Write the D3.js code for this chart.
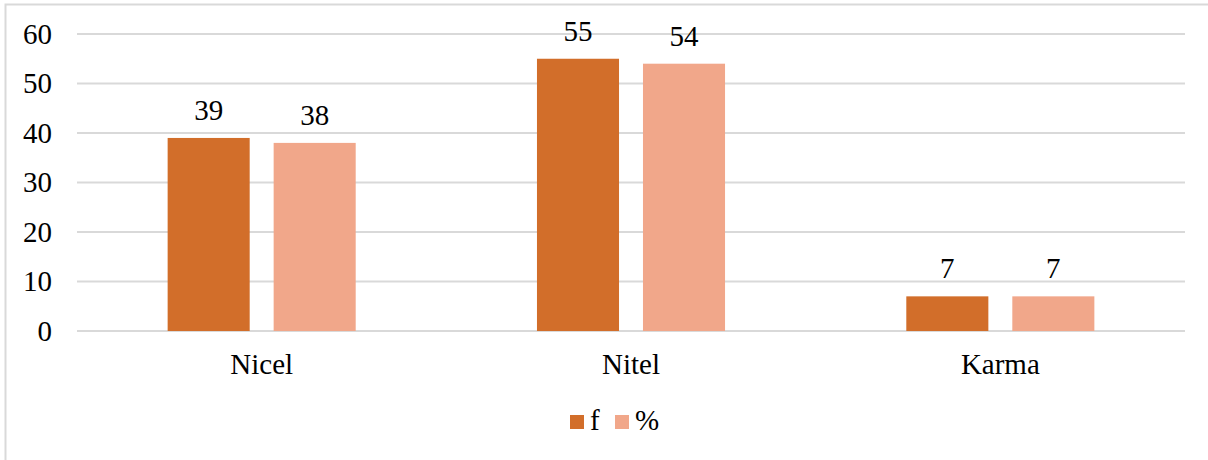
<!DOCTYPE html>
<html>
<head>
<meta charset="utf-8">
<script src="https://cdn.jsdelivr.net/npm/d3@7"></script>
<style>
  html, body { margin: 0; padding: 0; background: #fff; }
</style>
</head>
<body>
<svg id="chart" width="1208" height="460"></svg>
<script>
// Categories and series
const categories = ["Nicel", "Nitel", "Karma"];
const seriesNames = ["f", "%"];
const fValues = [39, 55, 7];
const pctValues = [38, 54, 7];
const yTicks = [0, 10, 20, 30, 40, 50, 60];
const seriesColors = ["#d26e2a", "#f1a78a"];

const FONT = "'Liberation Serif', 'Times New Roman', serif";
const FONT_SIZE = 29;

const svg = d3.select("#chart");
const W = 1208, H = 460;
const plot = { left: 77, right: 1185, top: 34, bottom: 331 };

// Outer frame (extends past the right and bottom edges)
svg.append("rect")
  .attr("x", 5.5).attr("y", 4.5)
  .attr("width", W + 10).attr("height", H + 10)
  .attr("fill", "none").attr("stroke", "#d9d9d9").attr("stroke-width", 2);

const y = d3.scaleLinear().domain([0, 60]).range([plot.bottom, plot.top]);
const x0 = d3.scaleBand().domain(categories).range([plot.left, plot.right]).padding(0);
const x1 = d3.scaleBand().domain(seriesNames).range([0, x0.bandwidth()])
  .paddingInner(0.226).paddingOuter(0.855);
const color = d3.scaleOrdinal().domain(seriesNames).range(seriesColors);

// Gridlines
svg.append("g").selectAll("line").data(yTicks).join("line")
  .attr("x1", plot.left).attr("x2", plot.right)
  .attr("y1", d => y(d)).attr("y2", d => y(d))
  .attr("stroke", "#d9d9d9").attr("stroke-width", 2);

// Y axis labels
const yAxis = d3.axisLeft(y).tickValues(yTicks).tickSize(0).tickPadding(0);
const gy = svg.append("g").attr("transform", "translate(52,0)").call(yAxis);
gy.select(".domain").remove();
gy.attr("font-family", null).attr("font-size", null);
gy.selectAll("text")
  .style("font-family", FONT)
  .style("font-size", FONT_SIZE + "px").attr("fill", "#000").attr("dy", "0.32em");

// X axis labels
const xAxis = d3.axisBottom(x0).tickSize(0).tickPadding(0);
const gx = svg.append("g").attr("transform", `translate(0,${plot.bottom})`).call(xAxis);
gx.select(".domain").remove();
gx.attr("font-family", null).attr("font-size", null);
gx.selectAll("text")
  .style("font-family", FONT)
  .style("font-size", FONT_SIZE + "px").attr("fill", "#000").attr("y", 43).attr("dy", 0);

// Bars
const rows = categories.map((c, i) => ({ cat: c, values: [
  { key: "f", value: fValues[i] },
  { key: "%", value: pctValues[i] }
]}));

const groups = svg.append("g").selectAll("g").data(rows).join("g")
  .attr("transform", d => `translate(${x0(d.cat)},0)`);

groups.selectAll("rect").data(d => d.values).join("rect")
  .attr("x", d => x1(d.key))
  .attr("width", x1.bandwidth())
  .attr("y", d => y(d.value))
  .attr("height", d => y(0) - y(d.value))
  .attr("fill", d => color(d.key));

// Value labels
groups.selectAll("text.val").data(d => d.values).join("text")
  .attr("class", "val")
  .attr("x", d => x1(d.key) + x1.bandwidth() / 2)
  .attr("y", d => y(d.value) - 18)
  .attr("text-anchor", "middle")
  .style("font-family", FONT)
  .style("font-size", FONT_SIZE + "px").attr("fill", "#000")
  .text(d => d.value);

// Legend
const legend = svg.append("g").attr("transform", "translate(570,415)");
const legendItems = [{ key: "f", x: 0, tx: 20 }, { key: "%", x: 45, tx: 65 }];
legendItems.forEach(it => {
  legend.append("rect").attr("x", it.x).attr("y", 0).attr("width", 14).attr("height", 14)
    .attr("fill", color(it.key));
  legend.append("text").attr("x", it.tx).attr("y", 15)
    .style("font-family", FONT)
    .style("font-size", FONT_SIZE + "px").attr("fill", "#000").text(it.key);
});
</script>
</body>
</html>
